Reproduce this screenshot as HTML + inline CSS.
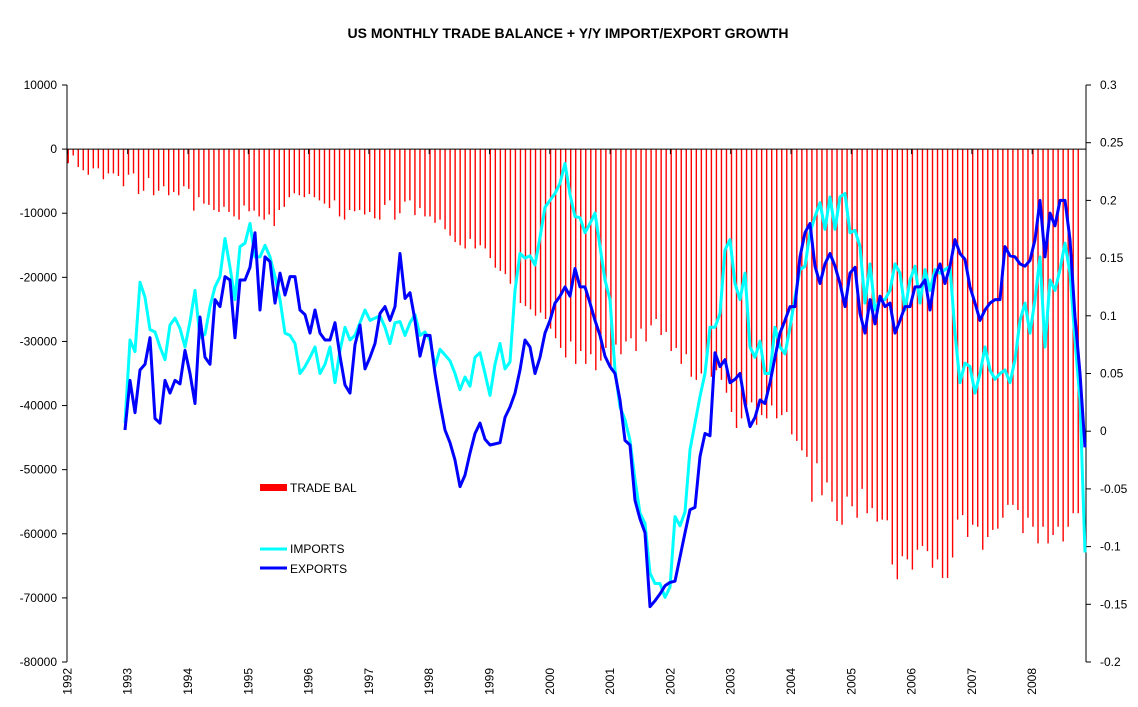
<!DOCTYPE html>
<html><head><meta charset="utf-8"><style>
html,body{margin:0;padding:0;background:#fff;}
svg{display:block;font-family:"Liberation Sans",Arial,sans-serif;}
</style></head><body>
<svg id="chart" width="1138" height="707" viewBox="0 0 1138 707">
<text x="568" y="38" text-anchor="middle" font-size="14" font-weight="bold">US MONTHLY TRADE BALANCE + Y/Y IMPORT/EXPORT GROWTH</text>
<g id="bars"></g>
<g id="axes"></g>
<g id="lines"></g>
<g>
<rect x="260" y="484" width="27" height="7" fill="#ff0000"/>
<text x="290" y="492" font-size="12">TRADE BAL</text>
<line x1="260" y1="549" x2="287" y2="549" stroke="#00ffff" stroke-width="3"/>
<text x="290" y="553" font-size="12">IMPORTS</text>
<line x1="260" y1="568" x2="287" y2="568" stroke="#0000ff" stroke-width="3"/>
<text x="290" y="573" font-size="12">EXPORTS</text>
</g>
</svg>
<script>
const tradeBal=[-2200,-1000,-2800,-3300,-4000,-3000,-3000,-4700,-3800,-3800,-4200,-5800,
-4000,-3800,-7000,-6500,-4500,-7200,-6500,-5800,-7200,-6700,-7200,-5800,
-6200,-9600,-7500,-8500,-8700,-9500,-9800,-9000,-9800,-10500,-11000,-8800,
-9700,-9600,-10500,-11000,-10200,-12000,-9500,-9000,-7500,-6900,-7200,-7500,
-7000,-7500,-8000,-8500,-9200,-8000,-10500,-11000,-9500,-9700,-9500,-10200,
-9800,-10800,-11000,-8700,-8000,-11000,-10000,-8200,-8000,-10300,-9200,-10500,
-10500,-11500,-11000,-12500,-13500,-14500,-15000,-15500,-14000,-15500,-15000,-15500,
-17000,-18500,-19000,-19500,-21000,-22500,-24000,-24500,-25000,-26000,-25500,-26500,
-28000,-29500,-31000,-32500,-30000,-33500,-31500,-33500,-32000,-34500,-33000,-31000,
-34500,-30500,-32000,-30000,-29500,-31500,-28000,-30000,-27500,-26500,-29000,-28500,
-31500,-31000,-33500,-32000,-35500,-36000,-35000,-34000,-35500,-34500,-36000,-38000,
-41000,-43500,-42000,-40000,-39500,-43000,-41500,-42000,-40000,-42000,-41500,-41000,
-44500,-45500,-47000,-48000,-55000,-49000,-54000,-52000,-55000,-58000,
-58600,-54200,-55700,-57500,-53000,-56800,-56000,-58100,-57800,-57900,-64800,-67100,-63500,-64000,-65600,-62500,
-61900,-62700,-65300,-64000,-66900,-66900,-63700,-57800,-57100,-60500,-58600,-58900,-62500,-60500,-59400,-59200,
-57500,-55500,-55500,-56300,-59900,-57500,-58900,-61500,-58900,-61500,-60200,-58900,-61200,-58900,-56800,-56800];
const imports=[0.007,0.079,0.069,0.129,0.116,0.088,0.086,0.073,0.062,0.092,0.098,0.089,0.073,0.095,0.122,0.081,0.084,0.108,0.125,0.134,0.167,0.142,0.114,0.160,0.163,0.180,0.151,0.151,0.161,0.151,0.134,0.114,0.085,0.083,0.076,0.050,0.056,0.064,0.073,0.050,0.058,0.073,0.042,
0.070,0.090,0.079,0.083,0.094,0.105,0.096,0.098,0.100,0.090,0.076,0.094,0.095,0.083,0.094,0.101,0.083,0.086,0.079,0.056,0.071,0.066,0.061,0.050,0.036,0.047,0.039,0.064,0.068,0.050,0.031,0.058,0.076,0.054,0.060,0.122,0.154,0.150,0.152,0.144,0.168,0.194,0.200,0.206,0.215,0.232,0.205,0.186,0.185,0.172,0.180,0.189,0.160,0.131,0.114,
0.053,0.021,0.010,-0.008,-0.042,-0.071,-0.080,-0.123,-0.132,-0.132,-0.144,-0.135,-0.074,-0.082,-0.070,-0.016,0.007,0.030,0.050,0.090,0.090,0.102,0.157,0.166,0.128,0.114,0.137,0.073,0.064,0.078,0.050,0.050,0.090,0.073,0.067,0.090,0.116,0.140,0.143,0.172,0.186,0.198,0.175,0.203,0.175,0.203,0.206,0.172,
0.174,0.160,0.111,0.145,0.105,0.114,0.114,0.122,0.145,0.137,0.105,0.131,0.143,0.111,0.140,0.122,0.140,0.137,0.140,0.143,0.085,0.042,0.059,0.056,0.033,0.050,0.073,0.053,0.045,0.050,0.053,0.042,0.062,0.096,0.111,0.085,0.114,0.151,0.073,0.131,0.122,0.140,0.163,0.137,0.079,0.027,-0.105];
const exportsG=[0.001,0.044,0.016,0.053,0.058,0.081,0.011,0.007,0.044,0.033,0.044,0.041,0.070,0.050,0.024,0.099,0.064,0.058,0.114,0.108,0.134,0.131,0.081,0.131,0.131,0.142,0.172,0.105,0.151,0.147,0.111,0.137,0.118,0.134,0.134,0.105,0.101,0.085,0.105,0.085,0.079,0.079,0.094,
0.065,0.040,0.033,0.075,0.092,0.054,0.064,0.076,0.102,0.108,0.096,0.108,0.154,0.115,0.120,0.096,0.065,0.083,0.083,0.050,0.024,0.001,-0.010,-0.025,-0.048,-0.038,-0.019,-0.002,0.007,-0.007,-0.012,-0.011,-0.010,0.012,0.021,0.033,0.053,0.079,0.073,0.050,0.064,0.085,0.096,0.111,0.117,0.125,0.117,0.141,0.125,0.125,0.111,0.096,0.083,0.065,0.056,
0.050,0.027,-0.008,-0.012,-0.060,-0.076,-0.088,-0.152,-0.147,-0.141,-0.134,-0.131,-0.130,-0.109,-0.088,-0.068,-0.066,-0.022,-0.002,-0.004,0.068,0.056,0.062,0.042,0.045,0.050,0.024,0.004,0.012,0.027,0.024,0.042,0.064,0.085,0.096,0.108,0.108,0.151,0.172,0.180,0.143,0.128,0.145,0.154,0.143,0.128,0.108,0.137,
0.142,0.102,0.085,0.114,0.093,0.117,0.108,0.111,0.085,0.096,0.108,0.108,0.125,0.125,0.131,0.105,0.134,0.145,0.128,0.143,0.166,0.154,0.149,0.125,0.111,0.096,0.105,0.111,0.114,0.114,0.160,0.152,0.151,0.145,0.143,0.148,0.166,0.200,0.151,0.189,0.178,0.200,0.200,0.166,0.099,0.050,-0.014];
const leftTicks=[10000,0,-10000,-20000,-30000,-40000,-50000,-60000,-70000,-80000];
const rightTicks=["0.3","0.25","0.2","0.15","0.1","0.05","0","-0.05","-0.1","-0.15","-0.2"];
const years=["1992","1993","1994","1995","1996","1997","1998","1999","2000","2001","2002","2003","2004","2005","2006","2007","2008"];

const NS="http://www.w3.org/2000/svg";
const X0=67,X1=1086,YT=85,YB=662;
const yL=v=>YT+(10000-v)/90000*(YB-YT);
const yR=v=>YT+(0.3-v)/0.5*(YB-YT);
const xMonth=m=>67.5+m*5.025;
const xYear=i=>67.4+i*60.3;
const lineStart=12;
function mk(tag,attrs,parent){const e=document.createElementNS(NS,tag);for(const k in attrs)e.setAttribute(k,attrs[k]);parent.appendChild(e);return e;}
const bars=document.getElementById('bars'),axes=document.getElementById('axes'),lines=document.getElementById('lines');
tradeBal.forEach((v,i)=>{
 const x=xMonth(i)+0.7;
 const b=mk('line',{x1:x,x2:x,y1:yL(0),y2:yL(v),stroke:'#ff0000','stroke-width':1.4},bars);
 
 
});
// axes
let a=mk('line',{x1:X0,x2:X0,y1:YT,y2:YB,stroke:'#000'},axes);


a=mk('line',{x1:X1,x2:X1,y1:YT,y2:YB,stroke:'#000'},axes);


a=mk('line',{x1:X0,x2:X1,y1:yL(0),y2:yL(0),stroke:'#000'},axes);


leftTicks.forEach(v=>{
 const y=yL(v);
 mk('line',{x1:X0-5,x2:X0,y1:y,y2:y,stroke:'#000'},axes);
 const t=mk('text',{x:57,y:y+4,'text-anchor':'end','font-size':12},axes);
 t.textContent=String(v);
 
 
});
rightTicks.forEach(s=>{
 const y=yR(parseFloat(s));
 mk('line',{x1:X1,x2:X1+5,y1:y,y2:y,stroke:'#000'},axes);
 const t=mk('text',{x:1100,y:y+4,'font-size':12},axes);
 t.textContent=s;
 
 
});
years.forEach((s,i)=>{
 const x=xYear(i);
 mk('line',{x1:x,x2:x,y1:yL(0),y2:yL(0)+5,stroke:'#000'},axes);
 const t=mk('text',{x:0,y:0,'font-size':12,'text-anchor':'end',transform:`translate(${x+4},${YB+6}) rotate(-90)`},axes);
 t.textContent=s;
 
 
});
function series(arr,color,name){
 const pts=arr.map((v,i)=>`${(125+i*5.0).toFixed(1)},${yR(v).toFixed(1)}`).join(' ');
 const p=mk('polyline',{points:pts,fill:'none',stroke:color,'stroke-width':3,'stroke-linejoin':'round'},lines);
 
 
}
series(imports,'#00ffff','imports-line');
series(exportsG,'#0000ff','exports-line');
</script>
</body></html>
